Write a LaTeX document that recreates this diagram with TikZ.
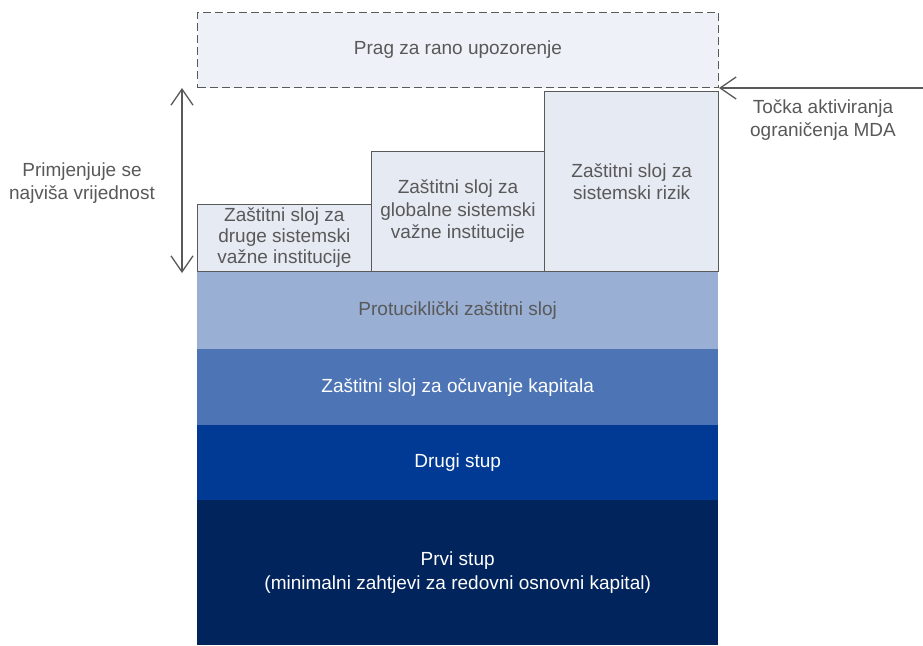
\documentclass[tikz,border=0pt]{standalone}
\usepackage{fontspec}
\setmainfont{Liberation Sans}
\usetikzlibrary{arrows.meta,positioning}

\definecolor{txtgray}{HTML}{595959}
\definecolor{linegray}{HTML}{595959}
\definecolor{pragfill}{HTML}{EEF1F7}
\definecolor{boxfill}{HTML}{E6EAF3}
\definecolor{protufill}{HTML}{9AAFD4}
\definecolor{ocufill}{HTML}{4D74B5}
\definecolor{drugifill}{HTML}{003A94}
\definecolor{prvifill}{HTML}{00245B}

\tikzset{
  txt/.style={font=\fontsize{19}{22.5}\selectfont, text=txtgray, align=center},
  layer/.style={txt, anchor=north west, inner sep=0pt, minimum width=521pt},
  topbox/.style={txt, anchor=south west, inner sep=0pt, minimum width=173.67pt,
    draw=linegray, line width=1pt, fill=boxfill},
  barb/.style={draw=linegray, line width=1.3pt, arrows={{Straight Barb[length=16pt,width=22pt]}-{Straight Barb[length=16pt,width=22pt]}}},
}

\begin{document}
\begin{tikzpicture}[x=1pt,y=-1pt]
        \useasboundingbox (0,0) rectangle (923,645);

        % Draw the capital stack
        \node[layer, fill=prvifill, text=white, minimum height=145pt, font=\fontsize{19}{24}\selectfont] (prvi) at (197,500)
          {Prvi stup\\(minimalni zahtjevi za redovni osnovni kapital)};
        \node[layer, fill=drugifill, text=white, minimum height=75pt] (drugi) at (197,425) {Drugi stup};
        \node[layer, fill=ocufill, text=white, minimum height=76pt] (ocuvanje) at (197,349) {Zaštitni sloj za očuvanje kapitala};
        \node[layer, fill=protufill, minimum height=77pt] (protu) at (197,272) {Protuciklički zaštitni sloj};

        % Draw the systemic buffers
        \node[topbox, minimum height=67pt, font=\fontsize{19}{21}\selectfont] (osv) at (197,272) {Zaštitni sloj za\\druge sistemski\\važne institucije};
        \node[topbox, minimum height=120pt] (gsv) at (370.67,272) {Zaštitni sloj za\\globalne sistemski\\važne institucije};
        \node[topbox, minimum height=180pt] (srb) at (544.33,272) {Zaštitni sloj za\\sistemski rizik};

        % Draw the warning threshold
        \node[layer, fill=pragfill, draw=linegray, line width=1pt, dash pattern=on 8pt off 4pt, minimum height=75pt] (prag) at (197,12) {Prag za rano upozorenje};

        % Draw arrows and labels
        \coordinate (vrh) at (182,88);
        \coordinate (dno) at (182,273);
        \draw[barb] (vrh) -- (dno);
        \node[txt] (najvisa) at (82,183) {Primjenjuje se\\najviša vrijednost};

        \coordinate (desno) at (923,88);
        \draw[draw=linegray, line width=1.3pt, -{Straight Barb[length=16pt,width=22pt]}] (desno) -- (prag.south east);
        \node[txt] (mda) at (823,120) {Točka aktiviranja\\ograničenja MDA};
\end{tikzpicture}
\end{document}
